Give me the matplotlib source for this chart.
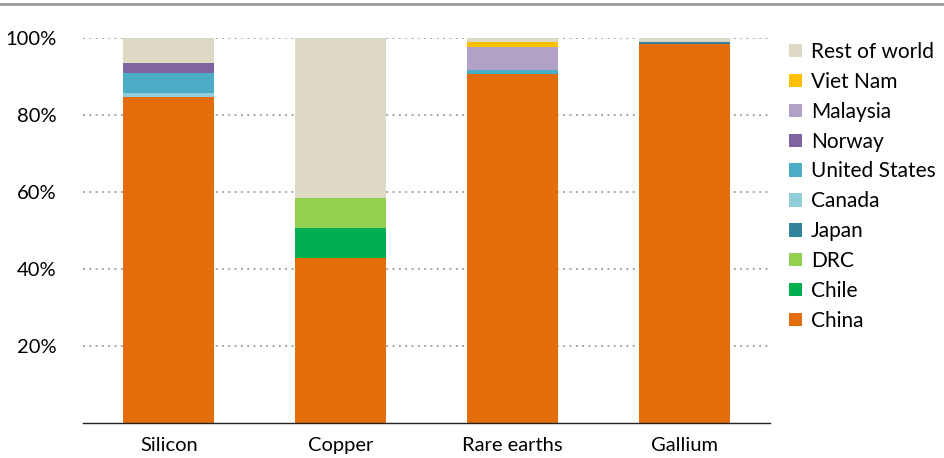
import matplotlib.pyplot as plt
import numpy as np

plt.rcParams['font.family'] = ['Lato', 'DejaVu Sans']

minerals = ["Silicon", "Copper", "Rare earths", "Gallium"]

# shares in %, per country, in stacking order (bottom to top)
china = [84.7, 42.9, 90.6, 98.4]
chile = [0, 7.8, 0, 0]
drc = [0, 7.8, 0, 0]
japan = [0, 0, 0, 0.5]
canada = [1.0, 0, 0, 0]
united_states = [5.2, 0, 1.0, 0]
norway = [2.6, 0, 0, 0]
malaysia = [0, 0, 6.0, 0]
viet_nam = [0, 0, 1.3, 0]
rest_of_world = [6.5, 41.5, 1.0, 1.1]

series = [
    ("China", china, "#E46C0A"),
    ("Chile", chile, "#00B050"),
    ("DRC", drc, "#92D050"),
    ("Japan", japan, "#31849B"),
    ("Canada", canada, "#92CDDC"),
    ("United States", united_states, "#4BACC6"),
    ("Norway", norway, "#8064A2"),
    ("Malaysia", malaysia, "#B2A1C7"),
    ("Viet Nam", viet_nam, "#FFC000"),
    ("Rest of world", rest_of_world, "#DDD9C4"),
]

fs = 14.5
fig = plt.figure(figsize=(9.44, 4.58), dpi=100)
ax = fig.add_axes([0.0879, 0.0764, 0.7278, 0.8406])

x = np.arange(len(minerals))
bottom = np.zeros(len(minerals))
handles = []
for name, vals, col in series:
    b = ax.bar(x, vals, width=0.53, bottom=bottom, color=col, label=name,
               edgecolor="none", zorder=2)
    bottom += np.array(vals)
    handles.append(b)

ax.set_xlim(-0.5, 3.5)
ax.set_ylim(0, 100)
ax.set_xticks(x)
ax.set_xticklabels(minerals, fontsize=fs)
ax.set_yticks([20, 40, 60, 80, 100])
ax.set_yticklabels(["20%", "40%", "60%", "80%", "100%"], fontsize=fs)
ax.tick_params(axis="both", length=0)
ax.tick_params(axis="y", pad=19)
ax.tick_params(axis="x", pad=10)

ax.yaxis.grid(True, linestyle=(0, (1, 2.5)), color="#999999", linewidth=1.3, zorder=0)
ax.set_axisbelow(True)
for s in ["top", "right", "left"]:
    ax.spines[s].set_visible(False)
ax.spines["bottom"].set_color("#222222")
ax.spines["bottom"].set_linewidth(1)

leg = ax.legend(handles[::-1], [s[0] for s in series][::-1],
                loc="upper left", bbox_to_anchor=(1.028, 0.99), frameon=False,
                fontsize=15, handlelength=0.6, handleheight=0.6,
                handletextpad=0.45, labelspacing=0.475,
                borderaxespad=0, borderpad=0)

# thin grey rule across the top
fig.add_artist(plt.Line2D([0, 1], [0.991, 0.991], transform=fig.transFigure,
                          color="#999999", linewidth=2))

fig.savefig("out.png", dpi=100)
